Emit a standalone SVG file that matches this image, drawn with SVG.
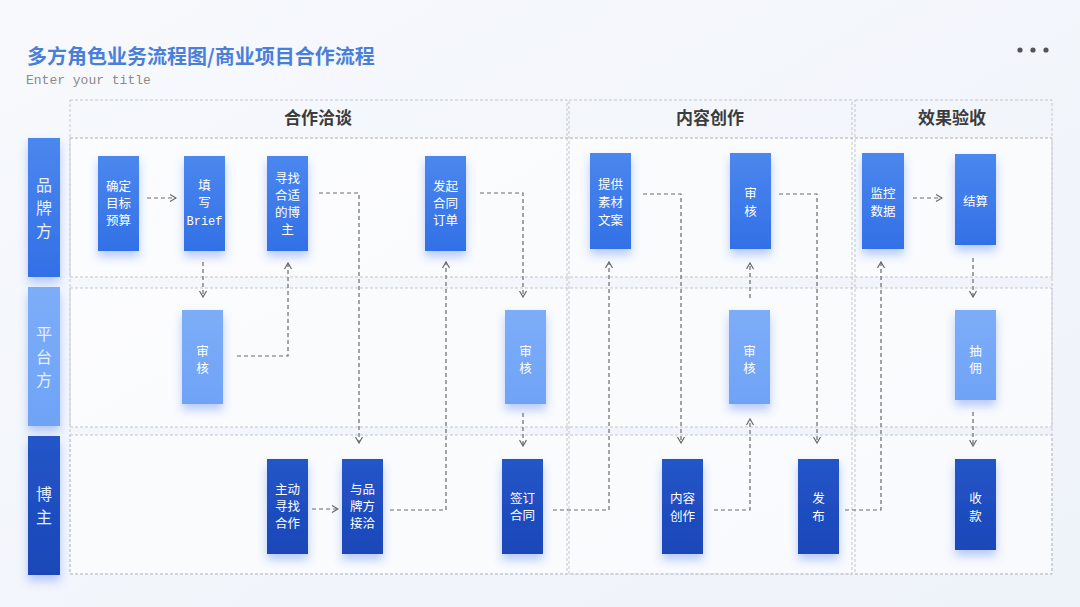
<svg xmlns="http://www.w3.org/2000/svg" width="1080" height="607" viewBox="0 0 1080 607">
<defs>
<style>
.title{font-family:"Noto Sans CJK SC","Liberation Serif",serif;font-size:20px;font-weight:700;fill:#4a7fd9}
.sub{font-family:"Liberation Mono",monospace;font-size:13px;fill:#8a8a8a}
.hdr{font-family:"Noto Sans CJK SC",sans-serif;font-size:17px;font-weight:700;fill:#3c3c3c;text-anchor:middle}
.box{fill:#ffffff;fill-opacity:0.6;stroke:#c3c7ce;stroke-width:1;stroke-dasharray:3 2}
.sec{fill:none;stroke:#c3c7ce;stroke-width:1;stroke-dasharray:3 2}
.lane{font-family:"Noto Sans CJK SC",sans-serif;font-size:16px;fill:#e8f0ff;text-anchor:middle}
.nt{font-family:"Noto Sans CJK SC",sans-serif;font-size:12.5px;fill:#ffffff;text-anchor:middle}
.mono{font-family:"Liberation Mono",monospace;font-size:12px}
.n1{fill:url(#g1);filter:url(#sh)}
.n2{fill:url(#g2);filter:url(#sh)}
.n3{fill:url(#g3);filter:url(#sh)}
.c{fill:none;stroke:#6a6a6a;stroke-width:1.2;stroke-dasharray:4 3;marker-end:url(#arr)}
</style>
<linearGradient id="bg" x1="0" y1="0" x2="1" y2="1">
<stop offset="0" stop-color="#f7f9fd"/><stop offset="1" stop-color="#eef2f9"/>
</linearGradient>
<linearGradient id="g1" x1="0" y1="0" x2="0" y2="1">
<stop offset="0" stop-color="#4b87ee"/><stop offset="1" stop-color="#3270e6"/>
</linearGradient>
<linearGradient id="g2" x1="0" y1="0" x2="0" y2="1">
<stop offset="0" stop-color="#7cadf8"/><stop offset="1" stop-color="#6fa3f6"/>
</linearGradient>
<linearGradient id="g3" x1="0" y1="0" x2="0" y2="1">
<stop offset="0" stop-color="#2355c8"/><stop offset="1" stop-color="#1c47b8"/>
</linearGradient>
<filter id="sh" x="-60%" y="-30%" width="220%" height="170%">
<feDropShadow dx="0" dy="6" stdDeviation="5" flood-color="#3d6ff0" flood-opacity="0.35"/>
</filter>
<marker id="arr" viewBox="0 0 8 8" refX="7" refY="4" markerWidth="8" markerHeight="8" markerUnits="userSpaceOnUse" orient="auto">
<path d="M1,0.5 L7,4 L1,7.5" fill="none" stroke="#666" stroke-width="1.2"/>
</marker>
</defs>

<rect width="1080" height="607" fill="url(#bg)"/>

<text class="title" x="27" y="64">多方角色业务流程图/商业项目合作流程</text>
<text class="sub" x="26" y="84">Enter your title</text>
<g id="menu-dots" fill="#555">
<circle cx="1020" cy="50" r="2.6"/><circle cx="1033" cy="50" r="2.6"/><circle cx="1046" cy="50" r="2.6"/>
</g>

<g id="grid">
<rect class="box" x="70" y="138" width="982" height="139"/>
<rect class="box" x="70" y="288" width="982" height="139"/>
<rect class="box" x="70" y="435" width="982" height="139"/>
<rect class="sec" x="70" y="100" width="497" height="474"/>
<rect class="sec" x="569" y="100" width="283" height="474"/>
<rect class="sec" x="855" y="100" width="197" height="474"/>
<line x1="70" y1="138" x2="1052" y2="138" stroke="#c3c7ce" stroke-dasharray="3 2"/>
<text class="hdr" x="318" y="124">合作洽谈</text>
<text class="hdr" x="710" y="124">内容创作</text>
<text class="hdr" x="952" y="124">效果验收</text>
</g>

<g id="lane-brand">
<rect x="28" y="138" width="32" height="139" fill="url(#g1)" filter="url(#sh)"/>
<text class="lane"><tspan x="44" y="191">品</tspan><tspan x="44" y="214">牌</tspan><tspan x="44" y="237">方</tspan></text>
</g>
<g id="lane-platform">
<rect x="28" y="287" width="32" height="139" fill="url(#g2)" filter="url(#sh)"/>
<text class="lane"><tspan x="44" y="340">平</tspan><tspan x="44" y="363">台</tspan><tspan x="44" y="386">方</tspan></text>
</g>
<g id="lane-blogger">
<rect x="28" y="436" width="32" height="139" fill="url(#g3)" filter="url(#sh)"/>
<text class="lane"><tspan x="44" y="500">博</tspan><tspan x="44" y="523">主</tspan></text>
</g>

<g id="connectors">
<path class="c" d="M147,198 H176"/>
<path class="c" d="M203,262 V297"/>
<path class="c" d="M237,356 H288 V263"/>
<path class="c" d="M319,193 H359 V443"/>
<path class="c" d="M312,509 H338"/>
<path class="c" d="M390,510 H446 V262"/>
<path class="c" d="M480,193 H523 V297"/>
<path class="c" d="M523,413 V446"/>
<path class="c" d="M553,510 H609 V262"/>
<path class="c" d="M643,194 H681 V443"/>
<path class="c" d="M714,510 H750 V419"/>
<path class="c" d="M750,298 V263"/>
<path class="c" d="M779,194 H817 V443"/>
<path class="c" d="M845,510 H881 V262"/>
<path class="c" d="M913,198 H942"/>
<path class="c" d="M973,258 V297"/>
<path class="c" d="M973,412 V446"/>
</g>

<g id="n-budget"><rect class="n1" x="98" y="156" width="41" height="95"/>
<text class="nt"><tspan x="118.5" y="191">确定</tspan><tspan x="118.5" y="208">目标</tspan><tspan x="118.5" y="225">预算</tspan></text></g>
<g id="n-brief"><rect class="n1" x="184" y="156" width="41" height="95"/>
<text class="nt"><tspan x="204.5" y="190">填</tspan><tspan x="204.5" y="207">写</tspan><tspan x="204.5" y="225" class="mono">Brief</tspan></text></g>
<g id="n-find"><rect class="n1" x="267" y="156" width="41" height="95"/>
<text class="nt"><tspan x="287.5" y="183">寻找</tspan><tspan x="287.5" y="200">合适</tspan><tspan x="287.5" y="217">的博</tspan><tspan x="287.5" y="234">主</tspan></text></g>
<g id="n-order"><rect class="n1" x="425" y="156" width="41" height="95"/>
<text class="nt"><tspan x="445.5" y="191">发起</tspan><tspan x="445.5" y="208">合同</tspan><tspan x="445.5" y="225">订单</tspan></text></g>
<g id="n-material"><rect class="n1" x="590" y="153" width="41" height="96"/>
<text class="nt"><tspan x="610.5" y="189">提供</tspan><tspan x="610.5" y="207">素材</tspan><tspan x="610.5" y="225">文案</tspan></text></g>
<g id="n-review-brand"><rect class="n1" x="730" y="153" width="41" height="96"/>
<text class="nt"><tspan x="750.5" y="198">审</tspan><tspan x="750.5" y="216">核</tspan></text></g>
<g id="n-monitor"><rect class="n1" x="862" y="153" width="42" height="96"/>
<text class="nt"><tspan x="883" y="198">监控</tspan><tspan x="883" y="216">数据</tspan></text></g>
<g id="n-settle"><rect class="n1" x="955" y="154" width="41" height="91"/>
<text class="nt"><tspan x="975.5" y="206">结算</tspan></text></g>

<g id="n-review-a"><rect class="n2" x="182" y="310" width="41" height="94"/>
<text class="nt"><tspan x="202.5" y="356">审</tspan><tspan x="202.5" y="373">核</tspan></text></g>
<g id="n-review-b"><rect class="n2" x="505" y="310" width="41" height="94"/>
<text class="nt"><tspan x="525.5" y="356">审</tspan><tspan x="525.5" y="373">核</tspan></text></g>
<g id="n-review-c"><rect class="n2" x="729" y="310" width="41" height="94"/>
<text class="nt"><tspan x="749.5" y="356">审</tspan><tspan x="749.5" y="373">核</tspan></text></g>
<g id="n-commission"><rect class="n2" x="955" y="310" width="41" height="90"/>
<text class="nt"><tspan x="975.5" y="356">抽</tspan><tspan x="975.5" y="373">佣</tspan></text></g>

<g id="n-active"><rect class="n3" x="267" y="459" width="41" height="95"/>
<text class="nt"><tspan x="287.5" y="494">主动</tspan><tspan x="287.5" y="511">寻找</tspan><tspan x="287.5" y="528">合作</tspan></text></g>
<g id="n-contact"><rect class="n3" x="342" y="459" width="41" height="95"/>
<text class="nt"><tspan x="362.5" y="494">与品</tspan><tspan x="362.5" y="511">牌方</tspan><tspan x="362.5" y="528">接洽</tspan></text></g>
<g id="n-sign"><rect class="n3" x="502" y="459" width="41" height="95"/>
<text class="nt"><tspan x="522.5" y="503">签订</tspan><tspan x="522.5" y="520">合同</tspan></text></g>
<g id="n-create"><rect class="n3" x="662" y="459" width="41" height="95"/>
<text class="nt"><tspan x="682.5" y="503">内容</tspan><tspan x="682.5" y="521">创作</tspan></text></g>
<g id="n-publish"><rect class="n3" x="798" y="459" width="41" height="95"/>
<text class="nt"><tspan x="818.5" y="503">发</tspan><tspan x="818.5" y="521">布</tspan></text></g>
<g id="n-collect"><rect class="n3" x="955" y="459" width="41" height="91"/>
<text class="nt"><tspan x="975.5" y="503">收</tspan><tspan x="975.5" y="521">款</tspan></text></g>
</svg>
